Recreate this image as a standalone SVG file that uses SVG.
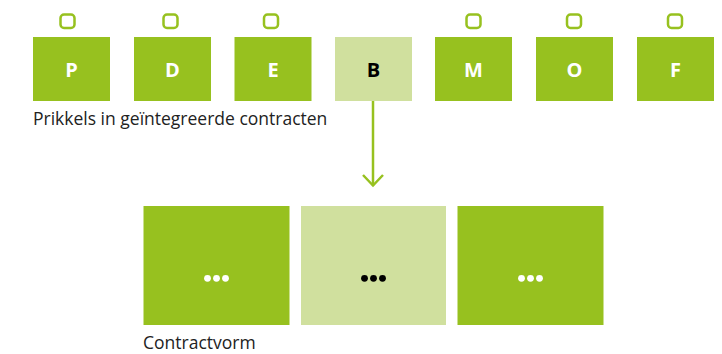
<svg xmlns="http://www.w3.org/2000/svg" width="722" height="354" viewBox="0 0 722 354">
<defs>
<style>
.dk{fill:#97c11f}
.lt{fill:#d0e09e}
.tab{fill:none;stroke:#97c11f;stroke-width:2.5}
.let{font-family:"Open Sans","Liberation Sans",sans-serif;font-weight:bold;font-size:20px;text-anchor:middle;fill:#fff}
.lbl{font-family:"Open Sans","Liberation Sans",sans-serif;font-size:17.5px;fill:#222}
.wd{fill:#fff}
.bd{fill:#000}
.conn{fill:none;stroke:#97c11f;stroke-width:2.5}
</style>
</defs>
<rect width="722" height="354" fill="#fff"/>
<g id="node-P"><rect class="tab" x="60.5" y="14.5" width="14" height="13.5" rx="3.5"/><rect class="dk" x="33" y="37" width="77" height="64"/><text class="let" x="71.5" y="77">P</text></g>
<g id="node-D"><rect class="tab" x="163.5" y="14.5" width="14" height="13.5" rx="3.5"/><rect class="dk" x="134" y="37" width="77" height="64"/><text class="let" x="172.5" y="77">D</text></g>
<g id="node-E"><rect class="tab" x="264" y="14.5" width="14" height="13.5" rx="3.5"/><rect class="dk" x="234.5" y="37" width="77" height="64"/><text class="let" x="273" y="77">E</text></g>
<g id="node-B"><rect class="lt" x="335" y="37" width="77" height="64"/><text class="let" x="373.5" y="77" style="fill:#000">B</text></g>
<g id="node-M"><rect class="tab" x="466.5" y="14.5" width="14" height="13.5" rx="3.5"/><rect class="dk" x="435" y="37" width="77" height="64"/><text class="let" x="473.5" y="77">M</text></g>
<g id="node-O"><rect class="tab" x="567" y="14.5" width="14" height="13.5" rx="3.5"/><rect class="dk" x="536" y="37" width="77" height="64"/><text class="let" x="574.5" y="77">O</text></g>
<g id="node-F"><rect class="tab" x="668" y="14.5" width="14" height="13.5" rx="3.5"/><rect class="dk" x="637" y="37" width="77" height="64"/><text class="let" x="675.5" y="77">F</text></g>
<g id="label-top"><text class="lbl" x="33" y="125">Prikkels in geïntegreerde contracten</text></g>
<g id="connectors">
<path class="conn" d="M373 101 V185.5"/>
<path class="conn" d="M363 175 L373 185.5 L383 175"/>
</g>
<g id="node-c1"><rect class="dk" x="143.5" y="206" width="146" height="119"/><circle class="wd" cx="207.5" cy="278.3" r="3.4"/><circle class="wd" cx="216.5" cy="278.3" r="3.4"/><circle class="wd" cx="225.5" cy="278.3" r="3.4"/></g>
<g id="node-c2"><rect class="lt" x="301" y="206" width="145" height="119"/><circle class="bd" cx="364.5" cy="278.3" r="3.4"/><circle class="bd" cx="373.5" cy="278.3" r="3.4"/><circle class="bd" cx="382.5" cy="278.3" r="3.4"/></g>
<g id="node-c3"><rect class="dk" x="457.5" y="206" width="146" height="119"/><circle class="wd" cx="521.5" cy="278.3" r="3.4"/><circle class="wd" cx="530.5" cy="278.3" r="3.4"/><circle class="wd" cx="539.5" cy="278.3" r="3.4"/></g>
<g id="label-bottom"><text class="lbl" x="143" y="349">Contractvorm</text></g>
</svg>
